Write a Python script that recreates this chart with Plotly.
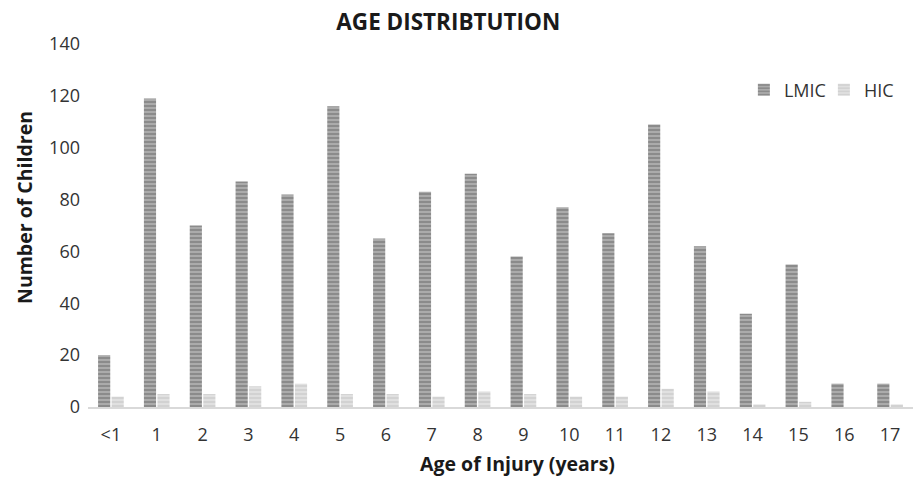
import plotly.graph_objects as go

categories = ["<1", "1", "2", "3", "4", "5", "6", "7", "8", "9", "10", "11", "12", "13", "14", "15", "16", "17"]
lmic = [20, 119, 70, 87, 82, 116, 65, 83, 90, 58, 77, 67, 109, 62, 36, 55, 9, 9]
hic = [4, 5, 5, 8, 9, 5, 5, 4, 6, 5, 4, 4, 7, 6, 1, 2, 0, 1]
y_ticks = [0, 20, 40, 60, 80, 100, 120, 140]

font_fam = "Open Sans, Lato, sans-serif"

fig = go.Figure()
fig.add_trace(go.Bar(
    x=categories, y=lmic, name="LMIC",
    marker=dict(color="#a9a9a9", line=dict(width=0),
                pattern=dict(shape="-", fgcolor="#6c6c6c", bgcolor="#ababab", size=4, solidity=0.5)),
))
fig.add_trace(go.Bar(
    x=categories, y=hic, name="HIC",
    marker=dict(color="#d9d9d9", line=dict(width=0),
                pattern=dict(shape="-", fgcolor="#c4c4c4", bgcolor="#e0e0e0", size=4, solidity=0.5)),
))

fig.update_layout(
    width=913, height=478,
    margin=dict(l=88, r=0, t=44, b=71, autoexpand=False),
    paper_bgcolor="white", plot_bgcolor="white",
    barmode="group", bargap=0.41, bargroupgap=0.1,
    font=dict(family=font_fam, size=18, color="#404040"),
    title=dict(text="<b>AGE DISTRIBTUTION</b>", x=0.491, xanchor="center", y=0.954, yanchor="middle",
               font=dict(family=font_fam, size=22.5, color="#1a1a1a")),
    showlegend=True,
    legend=dict(orientation="h", x=0.795, y=0.873, xanchor="left", yanchor="middle",
                font=dict(size=18, color="#333333"), bgcolor="rgba(0,0,0,0)",
                itemwidth=30, traceorder="normal", entrywidth=35),
    xaxis=dict(showgrid=False, showline=True, linecolor="#d9d9d9", linewidth=2, ticks="",
               tickfont=dict(size=18, color="#333333"), ticklabelstandoff=10),
    yaxis=dict(range=[0, 140], tickvals=y_ticks, showgrid=False, zeroline=False, showline=False,
               ticks="", tickfont=dict(size=18, color="#333333"), ticklabelstandoff=7),
    annotations=[
        dict(text="<b>Age of Injury (years)</b>", xref="paper", yref="paper",
             x=0.52, y=-0.157, xanchor="center", yanchor="middle", showarrow=False,
             font=dict(size=19.5, color="#1a1a1a")),
        dict(text="<b>Number of Children</b>", xref="paper", yref="paper",
             x=-0.0764, y=0.551, xanchor="center", yanchor="middle", showarrow=False,
             textangle=-90, font=dict(size=19.5, color="#1a1a1a")),
    ],
)

fig.write_html("out.html", config={"displayModeBar": False},
               post_script="document.body.style.margin='0';")
